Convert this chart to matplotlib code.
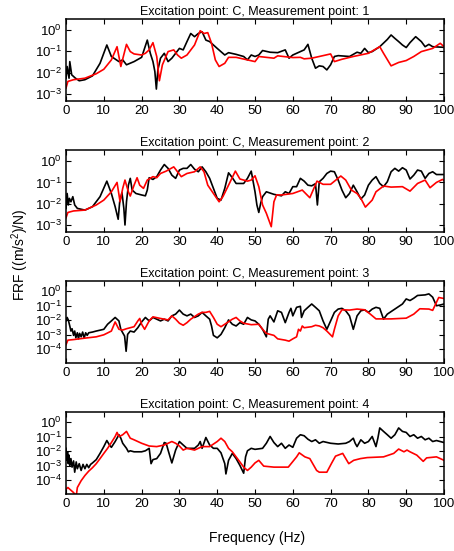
import numpy as np
import matplotlib
matplotlib.use("Agg")
import matplotlib.pyplot as plt
from matplotlib.ticker import NullLocator

# FRF curves, values as log10 of the magnitude
# black = measured, red = model

# --- measurement point 1
f1_meas = [0, 0.3, 0.8, 1.0, 1.5, 2.5, 3.5, 5, 7, 9,
           10.8, 12, 14, 15, 16, 18, 20, 21.5, 22.3, 23,
           23.5, 23.9, 24.3, 25, 26, 27, 28, 29, 30, 31,
           32, 33, 34, 35, 36, 37, 38, 39, 40, 42,
           43, 45, 47, 48, 49, 50, 51, 52, 54, 56,
           58, 59, 60, 62, 63, 64, 65, 66, 67, 68,
           69, 70, 71, 72, 75, 77, 78, 79, 80, 81,
           83, 85, 86, 87, 88, 89, 90, 91, 92.5, 94,
           95, 96, 97, 100]
m1_meas = [-2.26, -1.71, -2.26, -1.48, -2.10, -2.26, -2.38, -2.33, -2.15, -1.56,
           -0.70, -1.24, -1.48, -1.40, -1.63, -1.48, -1.28, -0.47, -1.09, -1.48,
           -1.94, -2.77, -1.87, -1.32, -1.09, -1.48, -1.32, -1.09, -0.86, -0.93,
           -0.54, -0.16, -0.31, -0.16, -0.08, -0.47, -0.54, -0.70, -0.86, -1.17,
           -1.06, -1.14, -1.24, -1.40, -1.17, -1.24, -1.17, -0.96, -1.04, -1.06,
           -0.93, -1.32, -1.17, -1.01, -0.93, -0.67, -1.32, -1.79, -1.68, -1.71,
           -1.87, -1.63, -1.24, -1.20, -1.24, -1.04, -1.09, -0.86, -1.06, -1.01,
           -0.78, -0.44, -0.23, -0.39, -0.54, -0.70, -0.82, -0.59, -0.31, -0.54,
           -0.78, -0.67, -0.78, -0.81]
f1_model = [0, 0.5, 2, 5, 8, 10, 12, 13.5, 14.5, 15.5,
            16, 17, 18, 20, 21, 22, 23, 24, 24.7, 25.5,
            27, 28.5, 29.5, 30.5, 32, 34, 35.5, 36.5, 37.5, 38.5,
            39.5, 40.5, 42, 43, 45, 48, 50, 51, 55, 56,
            60, 62, 63, 65, 70, 71, 73, 76, 80, 83,
            84, 86, 88, 90, 92, 94, 97, 99, 100]
m1_model = [-2.72, -2.41, -2.33, -2.26, -2.05, -1.84, -1.40, -0.78, -1.71, -1.01,
            -0.67, -1.01, -1.12, -1.17, -1.09, -0.93, -0.59, -1.24, -2.38, -1.63,
            -1.01, -0.93, -1.17, -1.32, -1.17, -0.70, -0.03, -0.16, -0.12, -0.62,
            -1.40, -1.71, -1.56, -1.28, -1.28, -1.40, -1.48, -1.24, -1.32, -1.21,
            -1.29, -1.28, -1.35, -1.32, -1.12, -1.48, -1.37, -1.24, -1.09, -0.78,
            -1.09, -1.68, -1.52, -1.43, -1.24, -1.01, -0.86, -0.62, -0.78]

# --- measurement point 2
f2_meas = [0, 0.3, 0.6, 0.9, 1.3, 1.8, 2.3, 3, 5, 7,
           9, 10.8, 12, 13, 13.8, 14.2, 14.8, 15.3, 15.6, 16,
           16.5, 17, 17.5, 18.5, 20, 21, 21.5, 22, 23, 24,
           25, 26, 27, 28, 29, 30, 31, 32, 33, 34,
           35, 36, 37, 38, 39, 40, 41, 42, 43, 44,
           45, 47, 48, 49, 50, 50.5, 51, 51.5, 52, 53,
           55, 57, 58, 59, 60, 61, 62, 63, 64, 65,
           66, 66.5, 67, 68, 69, 70, 71, 72, 73, 74,
           75, 76, 77, 78, 79, 80, 81, 82, 83, 84,
           85, 86, 87, 88, 89, 90, 91, 92, 93, 94,
           95, 96, 97, 98, 100]
m2_meas = [-2.22, -1.52, -2.06, -1.75, -1.91, -1.67, -2.06, -2.22, -2.30, -2.14,
           -1.67, -0.94, -1.52, -2.14, -2.73, -1.91, -1.48, -2.22, -3.00, -1.91,
           -1.13, -0.81, -1.36, -1.52, -1.59, -1.63, -1.36, -0.78, -0.86, -0.73,
           -0.42, -0.16, -0.34, -0.66, -0.81, -0.42, -0.34, -0.34, -0.16, -0.38,
           -0.50, -0.27, -0.50, -0.81, -1.28, -1.75, -1.83, -1.28, -0.55, -0.78,
           -1.05, -1.05, -0.81, -0.47, -1.44, -2.06, -2.41, -1.98, -1.67, -1.44,
           -1.56, -1.63, -1.44, -1.52, -1.20, -1.20, -0.81, -0.94, -1.13, -1.16,
           -1.06, -2.06, -0.97, -0.81, -0.58, -0.47, -0.50, -0.89, -1.36, -1.72,
           -1.52, -1.13, -1.44, -1.78, -1.59, -1.13, -0.89, -0.73, -1.05, -1.20,
           -0.97, -0.50, -0.34, -0.47, -0.31, -0.42, -0.84, -0.66, -0.42, -0.47,
           -0.81, -0.58, -0.50, -0.63, -0.63]
f2_model = [0, 0.5, 2, 5, 8, 10, 12, 13.5, 14.3, 15,
            15.6, 16.5, 17, 18, 18.8, 19.5, 20.5, 21.5, 23, 24,
            25, 26.5, 28.5, 29.5, 30.5, 32, 34, 35.5, 36.5, 37.5,
            39, 40.5, 41.5, 43, 44.8, 46, 48, 49, 50, 51,
            52, 53, 54.3, 55, 55.7, 57, 60, 62.5, 64.5, 66.4,
            68, 70, 72.7, 74, 75.5, 77, 78, 79.2, 81, 82,
            84, 86, 89, 91, 93, 95, 96.3, 98, 99.6, 100]
m2_model = [-2.66, -2.41, -2.34, -2.30, -2.06, -1.83, -1.44, -1.00, -1.91, -1.28,
            -0.89, -1.44, -1.64, -1.13, -0.78, -1.13, -1.28, -0.89, -0.73, -0.78,
            -0.58, -0.47, -0.27, -0.50, -0.73, -0.58, -0.50, -0.27, -0.50, -1.13,
            -1.52, -1.91, -1.67, -1.13, -0.47, -0.84, -0.94, -0.89, -0.69, -1.20,
            -2.06, -2.45, -3.08, -1.91, -1.59, -1.59, -1.52, -1.36, -1.72, -0.94,
            -1.09, -1.09, -0.70, -0.89, -1.36, -1.52, -1.75, -2.16, -1.83, -1.44,
            -1.17, -1.22, -1.20, -1.41, -1.05, -0.89, -1.25, -1.00, -0.86, -0.91]

# --- measurement point 3
f3_meas = [0, 0.3, 0.6, 1, 1.3, 1.6, 2, 2.3, 2.6, 3,
           3.3, 3.6, 4, 4.4, 4.8, 5.2, 5.6, 6, 7, 8,
           10, 11, 12, 13, 14, 14.5, 15, 15.5, 15.9, 16.3,
           17, 18, 19, 20, 21, 22, 23, 24, 25, 26,
           27, 28, 29, 30, 31, 32, 33, 34, 35, 36,
           37, 38, 38.5, 39, 40, 41, 42, 43, 44, 45,
           46, 47, 48, 49, 50, 51, 52, 53, 53.5, 54,
           55, 56, 57, 58, 59, 59.5, 60, 61, 62, 62.3,
           63, 64, 65, 66, 67, 68, 69, 70, 71, 72,
           73, 74, 75, 76, 77, 78, 79, 80, 81, 82,
           83, 84, 85, 87, 89, 90, 91, 92, 93, 95,
           96, 97, 98, 99, 100]
m3_meas = [-2.06, -1.82, -1.99, -2.41, -2.76, -2.60, -3.06, -2.76, -3.23, -2.88,
           -3.30, -2.92, -3.16, -2.83, -3.25, -2.88, -3.06, -2.88, -2.83, -2.76,
           -2.64, -2.29, -2.06, -1.82, -2.06, -2.64, -2.88, -3.11, -4.16, -2.99,
           -2.76, -2.83, -2.53, -2.13, -1.82, -2.06, -1.82, -1.94, -2.06, -1.94,
           -2.06, -1.71, -1.59, -1.31, -1.59, -1.71, -1.59, -1.82, -1.71, -1.47,
           -1.71, -1.94, -2.41, -3.06, -3.23, -2.99, -2.53, -1.99, -2.29, -2.41,
           -2.18, -2.29, -1.82, -1.99, -2.06, -2.29, -2.64, -3.16, -1.94, -1.71,
           -2.13, -1.36, -1.47, -2.18, -1.47, -1.19, -1.71, -1.12, -1.05, -1.82,
           -1.36, -1.12, -0.89, -1.12, -1.36, -2.06, -2.64, -2.06, -1.47, -1.24,
           -1.19, -1.36, -1.71, -2.64, -1.71, -1.36, -1.29, -1.47, -1.24, -1.12,
           -1.19, -1.94, -1.59, -1.24, -0.89, -0.54, -0.65, -0.49, -0.30, -0.26,
           -0.19, -0.42, -1.01, -0.96, -0.89]
f3_model = [0, 0.5, 2, 5, 8, 10, 12, 13, 14, 15,
            16, 17, 18, 19, 19.5, 20, 20.8, 22, 23, 25,
            27, 28, 29, 30, 31, 32, 33, 35, 36, 37,
            38, 39, 40, 41, 42, 44, 45, 46, 47, 49,
            51, 52, 53, 55, 56, 58, 59, 60, 61, 61.5,
            62, 62.5, 63, 65, 66, 67, 68, 69, 70.5, 71,
            72, 73, 75, 77, 79, 80.5, 82, 86, 90, 92,
            93.6, 96, 97, 98.6, 100]
m3_model = [-3.70, -3.39, -3.35, -3.25, -3.16, -3.02, -2.76, -2.13, -2.64, -2.69,
            -2.60, -2.53, -2.46, -2.06, -1.89, -2.29, -2.64, -2.06, -1.78, -1.89,
            -1.99, -1.71, -1.94, -2.22, -2.36, -2.18, -1.94, -1.59, -1.47, -1.47,
            -1.40, -1.82, -2.29, -2.46, -2.29, -1.94, -1.82, -2.06, -2.22, -2.32,
            -2.29, -2.64, -2.92, -3.06, -3.30, -3.39, -3.46, -3.30, -3.16, -2.64,
            -2.76, -2.41, -2.53, -2.46, -2.36, -2.41, -2.53, -2.76, -3.16, -2.64,
            -1.71, -1.29, -1.31, -1.24, -1.29, -1.59, -1.92, -1.92, -1.87, -1.59,
            -1.22, -1.24, -1.33, -0.44, -0.51]

# --- measurement point 4
f4_meas = [0, 0.2, 0.4, 0.6, 0.8, 1, 1.3, 1.6, 2, 2.3,
           2.7, 3, 3.5, 4, 4.5, 5, 5.5, 6, 6.5, 7,
           8, 9, 10, 10.8, 11.5, 12, 13, 14, 14.5, 15,
           16, 16.5, 17, 18, 20, 21, 22, 22.5, 23, 24,
           25, 26, 26.5, 27, 28, 29, 30, 31, 32, 34,
           35, 35.5, 36, 37, 38, 39, 40, 41, 42, 42.3,
           43, 44, 45, 46, 47, 47.5, 48, 49, 50, 52,
           53, 54, 55, 56, 57, 58, 59, 60, 61, 62,
           63, 64, 65, 66, 67, 68, 70, 72, 74, 75,
           76, 76.5, 77, 78, 79, 80, 81, 82, 82.5, 83,
           84, 85, 86, 87, 88, 89, 90, 91, 92, 93,
           94, 95, 96, 97, 98, 100]
m4_meas = [-1.81, -2.64, -2.05, -2.87, -2.28, -2.99, -2.52, -3.11, -2.68, -3.46,
           -2.75, -3.22, -2.87, -3.34, -2.92, -3.22, -2.92, -3.15, -2.92, -2.82,
           -2.59, -2.16, -1.69, -1.27, -1.58, -1.74, -1.34, -0.87, -1.11, -1.46,
           -1.81, -2.05, -1.98, -2.05, -2.05, -1.98, -1.81, -2.87, -2.59, -2.52,
           -2.16, -1.41, -1.46, -1.93, -2.82, -1.93, -1.34, -1.58, -1.81, -1.81,
           -1.58, -1.34, -1.81, -1.06, -1.58, -1.81, -1.81, -2.12, -2.87, -3.58,
           -2.64, -2.16, -2.52, -2.99, -3.53, -2.40, -1.98, -1.81, -1.88, -1.81,
           -1.46, -0.99, -1.41, -1.69, -1.46, -1.81, -1.58, -1.74, -1.11, -0.87,
           -0.94, -1.18, -1.34, -1.22, -1.46, -1.34, -1.46, -1.51, -1.46, -1.34,
           -1.11, -1.46, -1.69, -1.22, -1.46, -1.34, -0.99, -1.69, -1.11, -0.40,
           -0.64, -0.87, -1.11, -0.87, -0.40, -0.64, -0.71, -0.99, -0.87, -1.11,
           -0.99, -1.22, -1.11, -1.34, -1.27, -1.41]
f4_model = [0, 0.5, 1, 2, 2.7, 3, 4, 5, 6, 7,
            8, 9, 10, 11, 12, 13, 13.5, 14, 14.5, 15,
            16, 17, 18, 20, 22, 24, 26, 28, 29, 30,
            31, 32, 34, 36, 38, 40, 41, 42, 43, 44,
            45, 46, 47, 48, 49, 50, 51, 52.3, 55, 58.8,
            61, 61.7, 63.2, 64.5, 66.3, 67, 69, 70.3, 71.3, 73.2,
            74.8, 76.1, 77.9, 79.7, 84, 86.7, 88, 89.4, 90.2, 91,
            92.8, 94.5, 95.4, 98, 99.6, 100]
m4_model = [-4.64, -4.52, -4.64, -4.87, -5.11, -4.52, -4.05, -3.69, -3.39, -3.15,
            -2.87, -2.52, -2.16, -1.81, -1.41, -0.99, -0.71, -0.99, -0.94, -0.87,
            -0.64, -1.11, -1.22, -1.46, -1.65, -1.69, -1.58, -1.34, -1.46, -1.65,
            -1.93, -1.81, -1.93, -1.69, -1.69, -1.34, -1.11, -1.34, -1.81, -2.05,
            -2.40, -2.75, -3.11, -3.34, -3.11, -2.82, -2.64, -3.04, -3.11, -3.11,
            -2.40, -2.12, -2.40, -2.52, -3.34, -3.46, -3.46, -2.82, -2.35, -2.16,
            -2.87, -2.64, -2.52, -2.45, -2.40, -2.16, -1.86, -2.05, -1.93, -2.05,
            -2.28, -2.71, -2.47, -2.40, -2.59, -2.64]

points = [1, 2, 3, 4]
freq_ticks = np.arange(0, 101, 10)

plt.rcParams['font.family'] = ['Liberation Sans', 'DejaVu Sans']
plt.rcParams['mathtext.fontset'] = 'custom'
plt.rcParams['mathtext.rm'] = 'Liberation Sans'
plt.rcParams['mathtext.it'] = 'Liberation Sans:italic'

fig = plt.figure(figsize=(4.54, 5.51), dpi=100)

left, width, height = 0.1454, 0.8326, 0.1488
bottoms = [0.8167, 0.5789, 0.3412, 0.1034]
ylims = [(10**-3.33, 10**0.52), (10**-3.33, 10**0.52),
         (10**-4.97, 10**0.7), (10**-4.97, 10**0.7)]
ydecades = [[1e-3, 1e-2, 1e-1, 1e0], [1e-3, 1e-2, 1e-1, 1e0],
            [1e-4, 1e-3, 1e-2, 1e-1, 1e0], [1e-4, 1e-3, 1e-2, 1e-1, 1e0]]

data = [(f1_meas, m1_meas, f1_model, m1_model),
        (f2_meas, m2_meas, f2_model, m2_model),
        (f3_meas, m3_meas, f3_model, m3_model),
        (f4_meas, m4_meas, f4_model, m4_model)]

for i, (fm, mm, fr, mr) in enumerate(data):
    ax = fig.add_axes([left, bottoms[i], width, height])
    ax.semilogy(fm, 10.0**np.array(mm), color='k', lw=1.2)
    ax.semilogy(fr, 10.0**np.array(mr), color='#ff0000', lw=1.2)
    ax.set_xlim(0, 100)
    ax.set_ylim(*ylims[i])
    ax.set_xticks(freq_ticks)
    ax.set_yticks(ydecades[i])
    ax.yaxis.set_minor_locator(NullLocator())
    ax.tick_params(direction='in', top=True, right=True, length=3.5,
                   width=0.8, labelsize=9.5, pad=3)
    for s in ax.spines.values():
        s.set_linewidth(1.1)
    ax.set_title('Excitation point: C, Measurement point: %d' % points[i],
                 fontsize=9, pad=3)

fig.text(0.566, 0.024, 'Frequency (Hz)', ha='center', va='center', fontsize=10)
fig.text(0.044, 0.537, 'FRF ((m/s$^2$)/N)', ha='center', va='center',
         rotation=90, fontsize=10)

fig.savefig('out.png', dpi=100)
